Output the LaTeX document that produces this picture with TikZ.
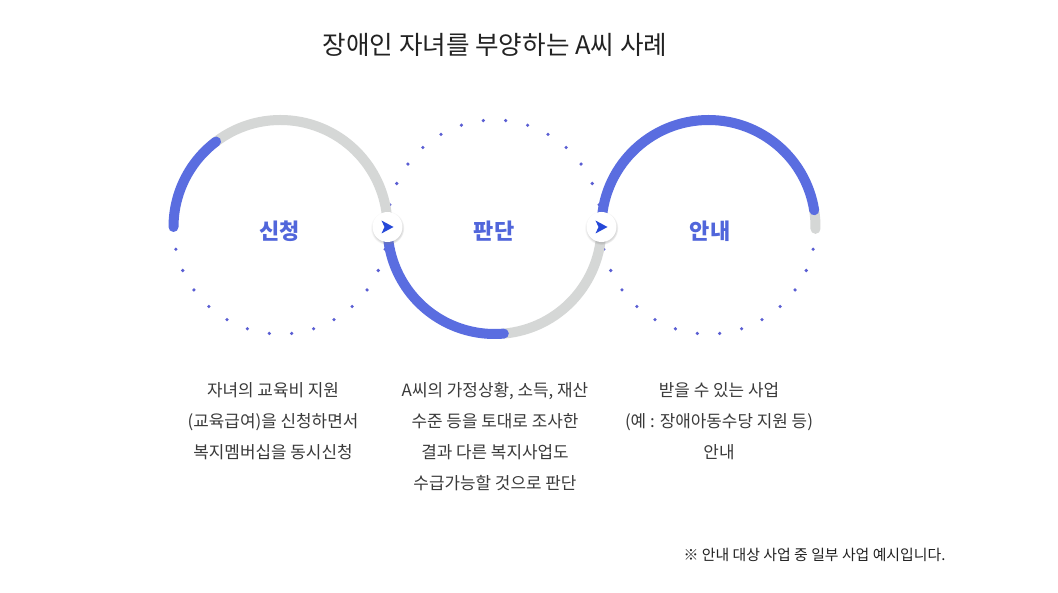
\documentclass[tikz,border=0pt]{standalone}
\usepackage{fontspec}
\setmainfont{Noto Sans CJK KR}
\usepackage{tikz}
\usetikzlibrary{shadows}
\definecolor{ringblue}{HTML}{5A6DE0}
\definecolor{ringgray}{HTML}{D5D7D6}
\definecolor{dotblue}{HTML}{5A5ED3}
\definecolor{arrowblue}{HTML}{2548D8}
\definecolor{stageblue}{HTML}{5166DB}
\definecolor{bodygray}{HTML}{3A3A3A}
\definecolor{titleblack}{HTML}{222222}

\begin{document}
\begin{tikzpicture}[x=1pt, y=1pt,
    ring/.style = {line width=10pt},
    stage/.style = {font=\fontsize{22}{26}\selectfont\bfseries, text=stageblue},
    desc/.style = {align=center, font=\fontsize{16.9}{31}\selectfont, text=bodygray},
    btn/.style = {circle, fill=white, minimum size=30pt, inner sep=0pt,
        circular drop shadow={shadow xshift=0pt, shadow yshift=-1pt, shadow scale=1.12, opacity=0.3}}]
    \fill[white] (0,0) rectangle (1058,592);
    \path[use as bounding box] (0,0) rectangle (1058,592);

    \coordinate (c1) at (280.5,365);
    \coordinate (c2) at (494.5,365);
    \coordinate (c3) at (708.5,365);

    % dotted halves
    \foreach \c/\a in {c1/192, c2/12, c3/192}
        \foreach \k in {0,...,13}
            \fill[dotblue] (\c) ++({\a+12*\k}:107) circle (1.8);

    % rings
    \draw[ring, ringgray] (c1) ++(127:107) arc (127:0:107);
    \draw[ring, ringblue, line cap=round] (c1) ++(180:107) arc (180:127:107);
    \draw[ring, ringgray] (c2) ++(275:107) arc (275:360:107);
    \draw[ring, ringblue, line cap=round] (c2) ++(180:107) arc (180:275:107);
    \draw[ring, ringgray, line cap=round] (c3) ++(9:107) arc (9:-1:107);
    \draw[ring, ringblue, line cap=round] (c3) ++(180:107) arc (180:9:107);

    % step buttons
    \node[btn] (b1) at (387.5,365) {};
    \node[btn] (b2) at (601.5,365) {};
    \foreach \b in {b1, b2}
        \fill[arrowblue] ([xshift=6pt]\b.center) -- ++(-12,6.5) -- ++(3,-6.5) -- ++(-3,-6.5) -- cycle;

    \node[font=\fontsize{25.6}{30}\selectfont, text=titleblack] (title) at (495,547) {장애인 자녀를 부양하는 A씨 사례};

    \node[stage] (apply) at (279.5,361) {신청};
    \node[stage] (judge) at (494,361) {판단};
    \node[stage] (guide) at (710,361) {안내};

    \node[desc] (applytxt) at (273,171) {자녀의 교육비 지원\\(교육급여)을 신청하면서\\복지멤버십을 동시신청};
    \node[desc] (judgetxt) at (495,155) {A씨의 가정상황, 소득, 재산\\수준 등을 토대로 조사한\\결과 다른 복지사업도\\수급가능할 것으로 판단};
    \node[desc] (guidetxt) at (719,171) {받을 수 있는 사업\\(예 : 장애아동수당 지원 등)\\안내};

    \node[anchor=east, font=\fontsize{14.9}{18}\selectfont, text=titleblack] (note) at (949,37) {※ 안내 대상 사업 중 일부 사업 예시입니다.};
\end{tikzpicture}
\end{document}
